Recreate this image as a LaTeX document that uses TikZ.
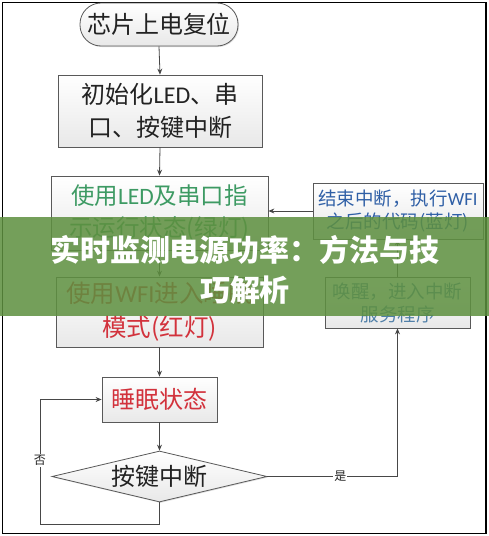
\documentclass[tikz,border=0pt]{standalone}
\usepackage{fontspec}
\setmainfont{Carlito}
\newfontfamily\cjk{Noto Sans CJK SC}
\newfontfamily\carl{Carlito}
\newcommand\lat[1]{{\carl #1}}
\usetikzlibrary{arrows.meta,shapes.geometric,shadows}
\definecolor{tgreen}{HTML}{3D9A63}
\definecolor{tred}{HTML}{D2323C}
\definecolor{tblue}{HTML}{2F5FA6}
\definecolor{twake}{HTML}{4F7FA8}
\definecolor{bgreen}{HTML}{5E9040}
\definecolor{tdark}{HTML}{222222}
\begin{document}
\begin{tikzpicture}[x=1pt,y=-1pt,
  box/.style={draw=black!65, line width=0.8pt, top color=white, bottom color=black!9,
    inner sep=0pt, align=center, text=tdark,
    drop shadow={shadow xshift=1pt,shadow yshift=-1pt,opacity=0.25}},
  line/.style={draw=black!72, line width=0.8pt},
  arr/.style={line, -{Stealth[length=6pt,width=5pt]}},
  lbl/.style={fill=white, inner sep=1pt, text=tdark, font=\cjk\fontsize{12}{14}\selectfont},
  f24/.style={font=\cjk\fontsize{24}{33}\selectfont},
  f235/.style={font=\cjk\fontsize{23.5}{32}\selectfont},
  f245/.style={font=\cjk\fontsize{24.5}{34}\selectfont},
  f18/.style={font=\cjk\fontsize{18.5}{23}\selectfont}
]
\useasboundingbox (0,0) rectangle (489,536);
\fill[white] (0,0) rectangle (489,536);
\draw[line width=1.5pt] (2.5,2.5) rectangle (486,533.5);

\node[box, f24, rounded corners=21pt, minimum width=158pt, minimum height=43pt] (start) at (159,24.5) {芯片上电复位};
\node[box, f24, minimum width=204pt, minimum height=72pt] (b2) at (160,111) {初始化\lat{LED}、串\\口、按键中断};
\node[box, f235, text=tgreen, minimum width=217pt, minimum height=74pt] (b3) at (159.5,213) {使用\lat{LED}及串口指\\示运行状态(绿灯)};
\node[box, f245, text=tred, minimum width=207pt, minimum height=70pt] (b4) at (159.5,312) {使用\lat{WFI}进入睡眠\\模式(红灯)};
\node[box, f24, text=tred, minimum width=115pt, minimum height=45pt] (sleep) at (159.5,399.5) {睡眠状态};
\node[box, f24, diamond, aspect=4.2, minimum width=215pt, minimum height=51pt] (dec) at (159.5,476.5) {按键中断};
\node[box, f18, text=tblue, minimum width=170pt, minimum height=56pt] (end) at (398,211) {结束中断，执行\lat{WFI}\\之后的代码(蓝灯)};
\node[box, f18, text=twake, minimum width=145pt, minimum height=51pt] (wake) at (397.5,302.5) {唤醒，进入中断\\服务程序};

\coordinate (c1) at (159.5,524);
\coordinate (c2) at (40,524);

\draw[arr] (start.south) -- (b2.north);
\draw[arr] (b2.south) -- (b3.north);
\draw[arr] (b3.south) -- (b4.north);
\draw[arr] (b4.south) -- (sleep.north);
\draw[arr] (sleep.south) -- (dec.north);
\draw[arr] (end.west) -- (end.west -| b3.east);
\draw[arr] (wake.north) -- (wake.north |- end.south);
\draw[arr] (dec.east) -- node[lbl, pos=0.56]{是} (dec.east -| wake.south) -- (wake.south);
\draw[arr] (dec.south) -- (c1) -- (c2) -- node[lbl, pos=0.51]{否} (c2 |- sleep.west) -- (sleep.west);

\fill[bgreen, opacity=0.86] (0,217) rectangle (489,316);
\node[text=white, font=\cjk\bfseries\fontsize{30}{40}\selectfont, align=center, inner sep=0pt] (ban) at (245,270) {实时监测电源功率：方法与技\\巧解析};
\end{tikzpicture}
\end{document}
